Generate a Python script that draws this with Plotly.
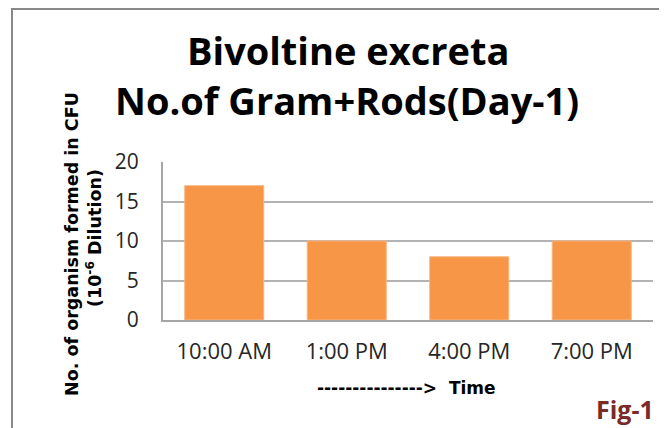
import plotly.graph_objects as go

categories = ["10:00 AM", "1:00 PM", "4:00 PM", "7:00 PM"]
values = [17, 10, 8, 10]
y_ticks = [0, 5, 10, 15, 20]

# page has an 8px body margin, so work in reference page pixels and shift
OFF = 8
W, H = 667 - OFF, 428 - OFF
L, R, T, B = 163 - OFF, 653 - OFF, 162 - OFF, 320 - OFF

def px(x):
    return (x - OFF - L) / (R - L)

def py(y):
    return (B - (y - OFF)) / (B - T)

TICKFONT = dict(size=22, family="Open Sans, sans-serif", color="#262626")

fig = go.Figure(go.Bar(
    x=categories, y=values,
    marker=dict(color="#F79646", line=dict(color="#FAB47E", width=1)),
    width=0.645,
))

fig.update_layout(
    width=W, height=H,
    margin=dict(l=L, r=W - R, t=T, b=H - B, pad=0),
    paper_bgcolor="white", plot_bgcolor="white",
    showlegend=False,
    xaxis=dict(
        showgrid=False, showline=True, linecolor="#A6A6A6", linewidth=2,
        tickfont=TICKFONT, ticks="", ticklabelstandoff=11,
    ),
    yaxis=dict(
        range=[0, 20], tickvals=y_ticks, showgrid=True, gridcolor="#B3B3B3", gridwidth=1.5,
        showline=True, linecolor="#A6A6A6", linewidth=2, zeroline=False,
        tickfont=dict(size=21, family="Open Sans, sans-serif", color="#262626"),
        ticks="", ticklabelstandoff=18,
    ),
    shapes=[
        dict(type="rect", xref="paper", yref="paper",
             x0=px(12), x1=px(720), y0=py(9), y1=py(480),
             line=dict(color="#888888", width=2), fillcolor="rgba(0,0,0,0)", layer="below"),
    ],
    annotations=[
        dict(text="<b>Bivoltine excreta</b>", xref="paper", yref="paper",
             x=px(348), y=py(50), showarrow=False, xanchor="center", yanchor="middle",
             font=dict(size=38, family="Open Sans, sans-serif", color="black")),
        dict(text="<b>No.of Gram+Rods(Day-1)</b>", xref="paper", yref="paper",
             x=px(347), y=py(100), showarrow=False, xanchor="center", yanchor="middle",
             font=dict(size=38, family="Open Sans, sans-serif", color="black")),
        dict(text="<b>No. of organism formed in CFU</b>", xref="paper", yref="paper",
             x=px(72), y=py(244), showarrow=False, textangle=-90, xanchor="center", yanchor="middle",
             font=dict(size=17.5, family="DejaVu Sans, sans-serif", color="black")),
        dict(text="<b>(10<sup>-6</sup> Dilution)</b>", xref="paper", yref="paper",
             x=px(94), y=py(238), showarrow=False, textangle=-90, xanchor="center", yanchor="middle",
             font=dict(size=17.5, family="DejaVu Sans, sans-serif", color="black")),
        dict(text="<b>---------------&gt;  Time</b>", xref="paper", yref="paper",
             x=px(406), y=py(388), showarrow=False, xanchor="center", yanchor="middle",
             font=dict(size=17, family="DejaVu Sans, sans-serif", color="black")),
        dict(text="<b>Fig-1</b>", xref="paper", yref="paper",
             x=px(625), y=py(409), showarrow=False, xanchor="center", yanchor="middle",
             font=dict(size=25, family="Open Sans, sans-serif", color="#7B2A2A")),
    ],
)

fig.write_html("out.html")
